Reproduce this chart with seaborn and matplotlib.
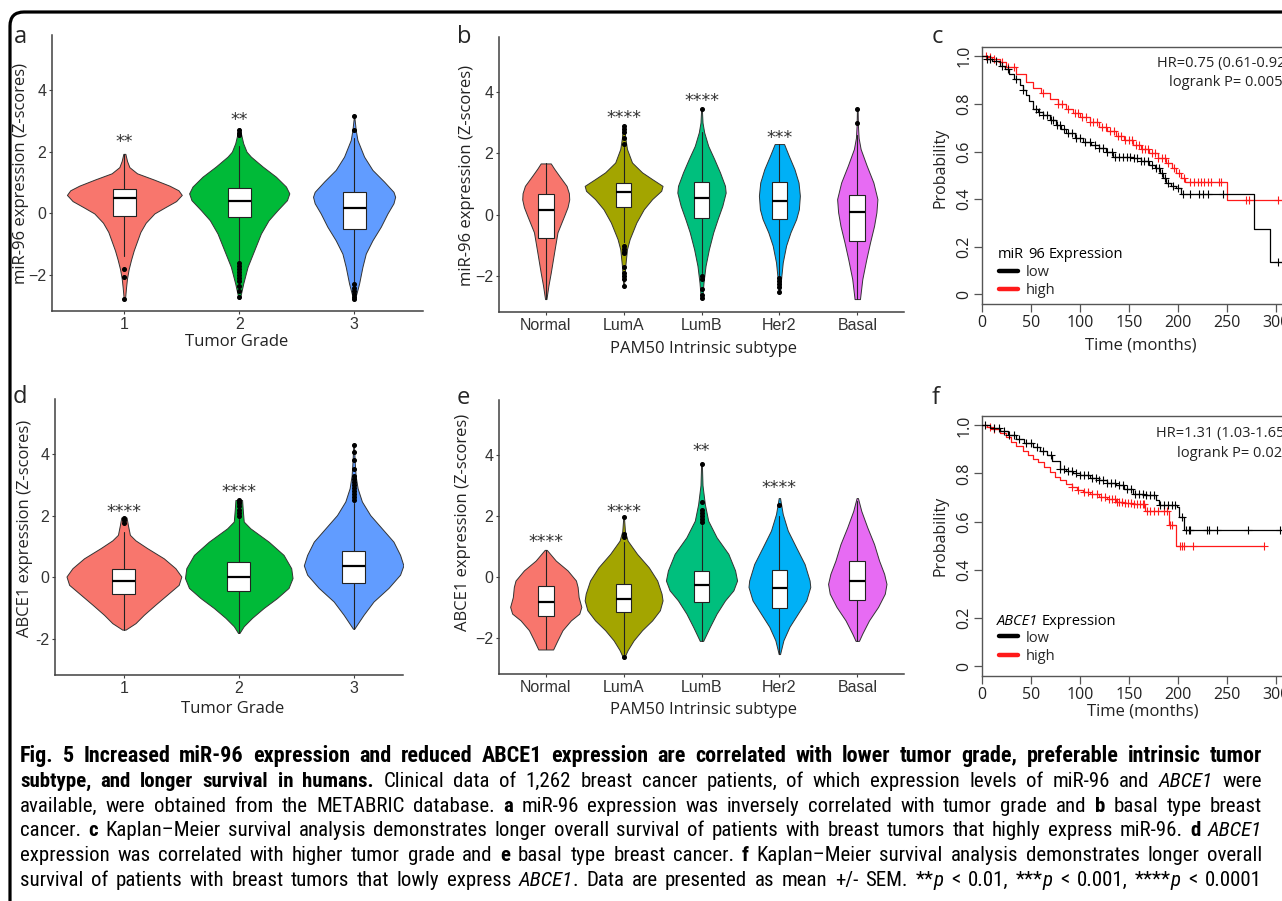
import os
import re
import numpy as np
import matplotlib
matplotlib.use("Agg")
import matplotlib.pyplot as plt
import seaborn as sns
from matplotlib import font_manager as fm
from matplotlib.font_manager import FontProperties
from matplotlib.patches import FancyBboxPatch
from matplotlib.transforms import IdentityTransform, offset_copy
from matplotlib.lines import Line2D

# ---------------------------------------------------------------- data
GRADES = ["1", "2", "3"]
SUBTYPES = ["Normal", "LumA", "LumB", "Her2", "Basal"]
COL3 = ["#F8766D", "#00BA38", "#619CFF"]
COL5 = ["#F8766D", "#A3A500", "#00BF7D", "#00B0F6", "#E76BF3"]

# panel a : miR-96 by tumour grade  (z level / relative density)
A1_Z = [1.93, 1.7, 1.5, 1.3, 1.1, 0.9, 0.75, 0.6, 0.4, 0.2, 0.0, -0.3, -0.6, -0.9, -1.2, -1.5, -1.8, -2.1, -2.4, -2.76]
A1_D = [3, 8, 15, 38, 88, 135, 162, 172, 155, 122, 90, 64, 48, 38, 28, 20, 13, 8, 5, 2]
A2_Z = [2.76, 2.5, 2.27, 2.0, 1.84, 1.52, 1.19, 0.87, 0.65, 0.43, 0.11, -0.22, -0.65, -1.19, -1.73, -2.27, -2.76]
A2_D = [2, 7, 12, 22, 35, 70, 110, 140, 150, 143, 115, 88, 65, 45, 25, 12, 2]
A3_Z = [3.1, 2.7, 2.38, 1.84, 1.41, 1.03, 0.7, 0.54, 0.33, 0.0, -0.43, -0.87, -1.3, -1.73, -2.27, -2.76]
A3_D = [1, 5, 10, 30, 55, 90, 118, 123, 118, 100, 80, 55, 35, 25, 15, 3]
A_MED = [0.5, 0.41, 0.19]
A_Q1 = [-0.09, -0.13, -0.49]
A_Q3 = [0.79, 0.81, 0.70]
A_WLO = [-1.39, -1.52, -2.25]
A_WHI = [1.93, 2.2, 2.45]
A1_OUT = [-1.79, -2.06, -2.76]
A2_OUT = [2.55, 2.62, 2.7, -1.6, -1.7, -1.8, -1.9, -2.0, -2.1, -2.2, -2.35, -2.5, -2.7]
A3_OUT = [2.7, 3.17, -2.3, -2.4, -2.5, -2.6, -2.7, -2.78]
A_STARS = ["**", "**", ""]
A_STAR_Y = [2.43, 3.16, 0]

# panel b : miR-96 by PAM50 subtype
B1_Z = [1.67, 1.5, 1.27, 0.94, 0.7, 0.5, 0.25, -0.03, -0.57, -1.22, -1.88, -2.3, -2.74]
B1_D = [15, 25, 40, 62, 69, 70, 65, 55, 35, 25, 15, 8, 2]
B2_Z = [2.9, 2.5, 2.14, 1.7, 1.38, 1.16, 0.94, 0.78, 0.51, 0.18, -0.25, -0.79, -1.12, -1.66, -2.31]
B2_D = [2, 5, 10, 25, 55, 85, 116, 112, 85, 60, 38, 18, 10, 5, 1]
B3_Z = [3.45, 3.0, 2.68, 2.24, 1.81, 1.38, 0.94, 0.72, 0.29, -0.14, -0.57, -1.12, -1.66, -2.2, -2.74]
B3_D = [1, 3, 8, 20, 38, 55, 70, 72, 62, 48, 35, 22, 12, 6, 2]
B4_Z = [2.3, 1.92, 1.48, 1.05, 0.62, 0.18, -0.14, -0.57, -1.0, -1.55, -2.09, -2.53]
B4_D = [14, 28, 45, 57, 61, 58, 50, 33, 20, 10, 5, 2]
B5_Z = [3.45, 2.9, 2.5, 2.14, 1.6, 1.05, 0.51, 0.08, -0.36, -0.9, -1.44, -2.09, -2.74]
B5_D = [1, 2, 4, 10, 28, 48, 60, 57, 50, 38, 27, 15, 8]
B_MED = [0.15, 0.75, 0.56, 0.46, 0.1]
B_Q1 = [-0.76, 0.26, -0.11, -0.14, -0.85]
B_Q3 = [0.66, 1.03, 1.08, 1.08, 0.65]
B_WLO = [-2.74, -0.9, -1.9, -1.97, -2.74]
B_WHI = [1.67, 2.2, 2.7, 2.3, 2.6]
B1_OUT = []
B2_OUT = [2.3, 2.5, 2.7, 2.8, 2.9, -1.0, -1.1, -1.2, -1.25, -1.7, -1.9, -2.0, -2.1, -2.3]
B3_OUT = [3.45, -2.0, -2.1, -2.4, -2.6, -2.72]
B4_OUT = [-2.05, -2.15, -2.25, -2.35, -2.5]
B5_OUT = [3.0, 3.45]
B_STARS = ["", "****", "****", "***", ""]
B_STAR_Y = [0, 3.27, 3.84, 2.62, 0]

# panel d : ABCE1 by tumour grade
D1_Z = [1.94, 1.7, 1.38, 1.2, 0.95, 0.62, 0.3, 0.03, -0.24, -0.56, -0.88, -1.21, -1.48, -1.69]
D1_D = [8, 12, 18, 35, 70, 120, 155, 173, 165, 130, 95, 60, 35, 5]
D2_Z = [2.51, 2.2, 1.81, 1.59, 1.16, 0.73, 0.3, -0.02, -0.34, -0.67, -0.99, -1.31, -1.58, -1.8]
D2_D = [10, 12, 15, 35, 90, 135, 158, 162, 150, 115, 75, 40, 15, 2]
D3_Z = [4.3, 3.8, 3.3, 2.89, 2.46, 2.02, 1.59, 1.16, 0.73, 0.39, 0.09, -0.34, -0.78, -1.21, -1.66]
D3_D = [1, 3, 6, 12, 25, 50, 85, 120, 140, 150, 140, 105, 60, 30, 2]
D_MED = [-0.1, 0.01, 0.38]
D_Q1 = [-0.54, -0.43, -0.17]
D_Q3 = [0.27, 0.5, 0.86]
D_WLO = [-1.69, -1.8, -1.66]
D_WHI = [1.48, 1.9, 2.4]
D1_OUT = [1.75, 1.85, 1.94]
D2_OUT = [2.0, 2.1, 2.2, 2.3, 2.4, 2.45, 2.51]
D3_OUT = [2.5, 2.6, 2.7, 2.8, 2.9, 3.0, 3.1, 3.2, 3.3, 3.5, 3.8, 4.05, 4.3]
D_STARS = ["****", "****", ""]
D_STAR_Y = [2.24, 2.91, 0]

# panel e : ABCE1 by PAM50 subtype
E1_Z = [0.89, 0.54, 0.22, -0.11, -0.32, -0.65, -0.97, -1.19, -1.41, -1.73, -2.06, -2.36]
E1_D = [3, 30, 65, 90, 95, 98, 106, 100, 75, 50, 35, 22]
E2_Z = [1.95, 1.5, 1.19, 0.76, 0.32, -0.11, -0.54, -0.76, -1.08, -1.41, -1.73, -2.06, -2.38, -2.62]
E2_D = [1, 4, 12, 40, 75, 100, 113, 116, 108, 85, 55, 30, 12, 2]
E3_Z = [3.73, 3.0, 2.38, 1.84, 1.3, 0.76, 0.22, -0.11, -0.43, -0.76, -1.19, -1.62, -2.08]
E3_D = [1, 3, 10, 20, 45, 80, 100, 106, 95, 70, 45, 25, 5]
E4_Z = [2.58, 2.06, 1.52, 0.97, 0.43, -0.11, -0.32, -0.76, -1.19, -1.62, -2.06, -2.51]
E4_D = [2, 10, 25, 50, 75, 90, 92, 80, 55, 30, 12, 2]
E5_Z = [2.58, 2.16, 1.62, 1.08, 0.54, 0.11, -0.22, -0.54, -0.97, -1.41, -1.84, -2.08]
E5_D = [2, 12, 30, 50, 65, 80, 87, 82, 62, 35, 15, 5]
E_MED = [-0.81, -0.7, -0.24, -0.36, -0.11]
E_Q1 = [-1.27, -1.14, -0.81, -1.0, -0.76]
E_Q3 = [-0.3, -0.22, 0.19, 0.22, 0.54]
E_WLO = [-2.36, -2.5, -2.08, -2.51, -2.08]
E_WHI = [0.89, 1.15, 1.69, 2.0, 2.5]
E1_OUT = []
E2_OUT = [1.3, 1.4, 1.95, -2.6]
E3_OUT = [1.8, 1.9, 2.0, 2.1, 2.2, 2.45, 3.7]
E4_OUT = [2.35]
E5_OUT = []
E_STARS = ["****", "****", "**", "****", ""]
E_STAR_Y = [1.27, 2.27, 4.25, 3.03, 0]

# panel c : Kaplan-Meier, miR-96
C_HIGH_T = [0, 5, 10, 18, 25, 35, 45, 52, 60, 69.5, 78, 86, 93, 100, 110, 120, 128, 137, 145, 154, 162, 171, 180, 188, 194, 198, 203, 207, 250, 320]
C_HIGH_S = [1.0, 0.995, 0.99, 0.975, 0.955, 0.926, 0.893, 0.867, 0.845, 0.822, 0.80, 0.778, 0.762, 0.746, 0.725, 0.704, 0.685, 0.667, 0.648, 0.628, 0.61, 0.593, 0.572, 0.551, 0.53, 0.51, 0.49, 0.47, 0.395, 0.395]
C_LOW_T = [0, 5, 10, 18, 23, 28, 33, 38.5, 42, 45, 48, 52, 57, 62, 69, 76, 81, 86, 95, 103, 111, 120, 127, 134, 145, 154, 162, 171, 177, 182, 185, 188, 193, 198, 203, 278, 294, 320]
C_LOW_S = [1.0, 0.99, 0.98, 0.961, 0.945, 0.926, 0.905, 0.878, 0.858, 0.836, 0.81, 0.78, 0.765, 0.753, 0.733, 0.711, 0.693, 0.676, 0.657, 0.642, 0.628, 0.614, 0.597, 0.579, 0.575, 0.572, 0.559, 0.545, 0.53, 0.51, 0.49, 0.468, 0.457, 0.447, 0.42, 0.276, 0.1375, 0.1375]
C_HIGH_CENS = [4, 8, 12, 20, 27, 33, 62, 78, 82, 88, 95, 98, 102, 106, 110, 113, 118, 123, 127, 131, 135, 139, 142, 146, 150, 153, 157, 160, 163, 167, 170, 174, 177, 180, 184, 187, 190, 196, 201, 206, 212, 217, 221, 224, 227, 231, 234, 242, 244, 270, 273, 302]
C_LOW_CENS = [5, 8, 14, 20, 27, 35, 42, 55, 58, 62, 66, 70, 73, 77, 80, 84, 88, 92, 96, 100, 105, 110, 115, 120, 124, 128, 133, 136, 140, 144, 148, 151, 155, 158, 162, 166, 170, 174, 178, 181, 184, 187, 190, 195, 200, 205, 212, 222, 226, 231, 246, 302]

# panel f : Kaplan-Meier, ABCE1
F_HIGH_T = [0, 5, 10, 18.5, 25, 30, 35, 42, 47, 52, 57, 63, 69, 75, 80, 86, 92, 97, 103, 110, 120, 128, 137, 145, 154, 167, 191, 198, 288]
F_HIGH_S = [1.0, 0.995, 0.985, 0.968, 0.95, 0.932, 0.916, 0.895, 0.876, 0.861, 0.846, 0.825, 0.806, 0.787, 0.772, 0.758, 0.742, 0.732, 0.723, 0.713, 0.703, 0.692, 0.682, 0.676, 0.672, 0.645, 0.586, 0.50, 0.50]
F_LOW_T = [0, 8, 18.5, 27, 35, 43, 52, 59, 66, 72, 79.5, 86, 93, 100, 110, 120, 128, 137, 145, 154, 165, 174, 178, 181, 199, 201, 206, 305]
F_LOW_S = [1.0, 0.99, 0.978, 0.96, 0.944, 0.926, 0.909, 0.893, 0.875, 0.85, 0.82, 0.809, 0.80, 0.792, 0.782, 0.771, 0.762, 0.751, 0.735, 0.716, 0.709, 0.709, 0.69, 0.668, 0.66, 0.62, 0.565, 0.565]
F_HIGH_CENS = [8, 12, 92, 98, 104, 108, 112, 118, 122, 126, 130, 133, 136, 138, 140, 143, 146, 149, 152, 155, 158, 161, 164, 166, 169, 172, 176, 180, 186, 189, 192, 194, 202, 204, 206, 216, 288]
F_LOW_CENS = [3, 12, 17, 22, 28, 33, 38, 45, 50, 56, 62, 70, 80, 84, 88, 92, 96, 100, 104, 108, 112, 116, 120, 124, 128, 132, 136, 140, 144, 148, 152, 156, 160, 164, 168, 172, 176, 182, 186, 190, 194, 197, 204, 208, 211, 213, 230, 232, 240, 272, 304]

C_STATS = ["HR=0.75 (0.61-0.92)", "logrank P= 0.0052"]
F_STATS = ["HR=1.31 (1.03-1.65)", "logrank P= 0.026"]
KM_TICKS = [0, 50, 100, 150, 200, 250, 300]
PROB_TICKS = [0, 0.2, 0.4, 0.6, 0.8, 1.0]
PROB_LABELS = ["0", "0.2", "0.4", "0.6", "0.8", "1.0"]

CAPTION = [
    [("Fig. 5 Increased miR-96 expression and reduced ABCE1 expression are correlated with lower tumor grade, preferable intrinsic tumor", "b")],
    [("subtype, and longer survival in humans.", "b"),
     (" Clinical data of 1,262 breast cancer patients, of which expression levels of miR-96 and ", "r"),
     ("ABCE1", "i"), (" were", "r")],
    [("available, were obtained from the METABRIC database. ", "r"), ("a", "b"),
     (" miR-96 expression was inversely correlated with tumor grade and ", "r"), ("b", "b"),
     (" basal type breast", "r")],
    [("cancer. ", "r"), ("c", "b"),
     (" Kaplan\u2013Meier survival analysis demonstrates longer overall survival of patients with breast tumors that highly express miR-96. ", "r"),
     ("d", "b"), (" ", "r"), ("ABCE1", "i")],
    [("expression was correlated with higher tumor grade and ", "r"), ("e", "b"),
     (" basal type breast cancer. ", "r"), ("f", "b"),
     (" Kaplan\u2013Meier survival analysis demonstrates longer overall", "r")],
    [("survival of patients with breast tumors that lowly express ", "r"), ("ABCE1", "i"),
     (". Data are presented as mean +/- SEM. **", "r"), ("p", "i"), (" < 0.01, ***", "r"),
     ("p", "i"), (" < 0.001, ****", "r"), ("p", "i"), (" < 0.0001", "r")],
]

# ---------------------------------------------------------------- setup
sns.set_style("white")
plt.rcParams["font.family"] = ["Open Sans", "DejaVu Sans"]
W, H = 1282, 901
fig = plt.figure(figsize=(W / 100, H / 100), dpi=100)
R = fig.canvas.get_renderer()

LAB = "Open Sans"
TICKF = "Liberation Sans"


def find_condensed():
    files = [f.fname for f in fm.fontManager.ttflist]
    prefixes = ["notosans-semicondensed", "notosans-condensed", "liberationsansnarrow",
                "robotocondensed", "opensans-condensed", "opensanscondensed"]
    for pre in prefixes:
        found = {}
        for fn in files:
            base = os.path.basename(fn).lower()
            if not base.startswith(pre):
                continue
            rest = re.sub(r"[^a-z]", "", re.sub(r"\.(ttf|otf)$", "", base[len(pre):]))
            if rest in ("", "regular"):
                found.setdefault("r", fn)
            elif rest == "bold":
                found.setdefault("b", fn)
            elif rest == "italic":
                found.setdefault("i", fn)
        if len(found) == 3:
            return found
    return None


COND = find_condensed()


def cap_fp(st, size):
    if COND is not None:
        return FontProperties(fname=COND[st], size=size)
    wt = "bold" if st == "b" else "normal"
    sl = "italic" if st == "i" else "normal"
    return FontProperties(family="Lato", weight=wt, style=sl, size=size)


def lab_fp(st, size):
    wt = "bold" if st == "b" else "normal"
    sl = "italic" if st == "i" else "normal"
    return FontProperties(family=LAB, weight=wt, style=sl, size=size)


def rect(x0, x1, ytop, ybot):
    return [x0 / W, 1 - ybot / H, (x1 - x0) / W, (ybot - ytop) / H]


def ftext(x, y, s, **kw):
    return fig.text(x / W, 1 - y / H, s, **kw)


def split_words(segs):
    words, new = [], True
    for txt, st in segs:
        for k, p in enumerate(txt.split(" ")):
            if k > 0:
                new = True
            if p == "":
                continue
            if new:
                words.append([(p, st)])
                new = False
            else:
                words[-1].append((p, st))
    return words


def piece_width(p, fp):
    t = fig.text(0, 0, p, fontproperties=fp)
    w = t.get_window_extent(renderer=R).width
    t.remove()
    return w


def rich(words, x, ybase, size, fpf, gap=None, color="black"):
    if gap is None:
        gap = 0.26 * size * 100 / 72
    for wd in words:
        for p, st in wd:
            fp = fpf(st, size)
            ftext(x, ybase, p, fontproperties=fp, va="baseline", ha="left", color=color)
            x += piece_width(p, fp)
        x += gap
    return x


def words_width(words, size, fpf):
    return sum(piece_width(p, fpf(st, size)) for wd in words for p, st in wd)


# ---------------------------------------------------------------- frame
frame = FancyBboxPatch((10, -60), 1500, H - 12 + 60, boxstyle="round,pad=0,rounding_size=14",
                       transform=IdentityTransform(), fill=False, ec="black", lw=2.3)
fig.add_artist(frame)


# ---------------------------------------------------------------- violin panels
def violin_panel(r, cats, colors, zs, ds, med, q1, q3, wlo, whi, outs, stars, star_y,
                 xlim, minus="\u2212"):
    ax = fig.add_axes(r)
    dmax = max(max(d) for d in ds)
    for i, (z, d) in enumerate(zip(zs, ds)):
        w = 0.5 * np.asarray(d, float) / dmax
        ax.fill_betweenx(z, i - w, i + w, facecolor=colors[i], edgecolor="#333333",
                         lw=0.7, zorder=2)
    stats = [dict(med=med[i], q1=q1[i], q3=q3[i], whislo=wlo[i], whishi=whi[i],
                  fliers=outs[i]) for i in range(len(cats))]
    ax.bxp(stats, positions=list(range(len(cats))), widths=0.2, patch_artist=True,
           showcaps=False, manage_ticks=False, zorder=3,
           boxprops=dict(facecolor="white", edgecolor="#222222", lw=0.8),
           medianprops=dict(color="black", lw=1.6),
           whiskerprops=dict(color="#222222", lw=0.8),
           flierprops=dict(marker="o", markerfacecolor="black", markeredgecolor="black",
                           markersize=2.6, linestyle="none"))
    tr = offset_copy(ax.transData, fig=fig, y=-9, units="dots")
    for i, s in enumerate(stars):
        if s:
            ax.text(i, star_y[i], s, transform=tr, ha="center", va="baseline",
                    fontsize=12.5, family="DejaVu Sans", color="#333333")
    ax.set_xlim(*xlim)
    ax.set_ylim(-3.16, 5.78)
    ax.set_xticks(range(len(cats)))
    ax.set_xticklabels(cats)
    ax.set_yticks([-2, 0, 2, 4])
    ax.set_yticklabels([minus + "2", "0", "2", "4"])
    for sp in ["top", "right"]:
        ax.spines[sp].set_visible(False)
    for sp in ["left", "bottom"]:
        ax.spines[sp].set_color("#404040")
        ax.spines[sp].set_linewidth(1.1)
    ax.tick_params(bottom=True, left=True, length=2.5, width=0.8, color="#404040",
                   pad=1.5, labelsize=11.5, labelcolor="#333333")
    for lab in ax.get_xticklabels() + ax.get_yticklabels():
        lab.set_family(TICKF)
    ax.patch.set_alpha(0)
    return ax


violin_panel(rect(52, 423, 35, 311), GRADES, COL3, [A1_Z, A2_Z, A3_Z], [A1_D, A2_D, A3_D],
             A_MED, A_Q1, A_Q3, A_WLO, A_WHI, [A1_OUT, A2_OUT, A3_OUT], A_STARS, A_STAR_Y,
             (-0.63, 2.6))
violin_panel(rect(499, 904, 37, 312), SUBTYPES, COL5, [B1_Z, B2_Z, B3_Z, B4_Z, B5_Z],
             [B1_D, B2_D, B3_D, B4_D, B5_D], B_MED, B_Q1, B_Q3, B_WLO, B_WHI,
             [B1_OUT, B2_OUT, B3_OUT, B4_OUT, B5_OUT], B_STARS, B_STAR_Y, (-0.6, 4.6))
violin_panel(rect(55, 403, 399, 675), GRADES, COL3, [D1_Z, D2_Z, D3_Z], [D1_D, D2_D, D3_D],
             D_MED, D_Q1, D_Q3, D_WLO, D_WHI, [D1_OUT, D2_OUT, D3_OUT], D_STARS, D_STAR_Y,
             (-0.6, 2.43), minus="-")
violin_panel(rect(499, 904, 400, 674), SUBTYPES, COL5, [E1_Z, E2_Z, E3_Z, E4_Z, E5_Z],
             [E1_D, E2_D, E3_D, E4_D, E5_D], E_MED, E_Q1, E_Q3, E_WLO, E_WHI,
             [E1_OUT, E2_OUT, E3_OUT, E4_OUT, E5_OUT], E_STARS, E_STAR_Y, (-0.6, 4.6))

# axis titles
LKW = dict(ha="center", va="center", fontsize=12, family=LAB, color="#222222")
ftext(21, 174, "miR-96 expression (Z-scores)", rotation=90, **LKW)
ftext(237, 342, "Tumor Grade", **LKW)
ftext(467, 176, "miR-96 expression (Z-scores)", rotation=90, **LKW)
ftext(703, 349, "PAM50 Intrinsic subtype", **LKW)
ftext(25, 528, "ABCE1 expression (Z-scores)", rotation=90, **LKW)
ftext(233, 709, "Tumor Grade", **LKW)
ftext(463, 522, "ABCE1 expression (Z-scores)", rotation=90, **LKW)
ftext(703, 710, "PAM50 Intrinsic subtype", **LKW)


# ---------------------------------------------------------------- KM panels
def step_at(t, s, c):
    idx = np.searchsorted(np.asarray(t), np.asarray(c), side="right") - 1
    return np.asarray(s)[idx]


def km_panel(r, lt, ls, ht, hs, lc, hc):
    ax = fig.add_axes(r)
    sns.lineplot(x=lt, y=ls, drawstyle="steps-post", estimator=None, color="black",
                 lw=0.9, ax=ax, zorder=3)
    sns.lineplot(x=ht, y=hs, drawstyle="steps-post", estimator=None, color="#FF1A1A",
                 lw=0.9, ax=ax, zorder=2)
    ax.plot(lc, step_at(lt, ls, lc), ls="none", marker="+", ms=6, mew=0.8, color="black", zorder=3)
    ax.plot(hc, step_at(ht, hs, hc), ls="none", marker="+", ms=6, mew=0.8, color="#FF1A1A", zorder=2)
    ax.set_xlim(0, 330)
    ax.set_ylim(-0.04, 1.04)
    ax.set_xticks(KM_TICKS)
    ax.set_xticklabels([str(v) for v in KM_TICKS])
    ax.set_yticks(PROB_TICKS)
    ax.set_yticklabels(PROB_LABELS, rotation=90, va="center")
    ax.set_xlabel("")
    ax.set_ylabel("")
    for sp in ax.spines.values():
        sp.set_color("#555555")
        sp.set_linewidth(1.0)
    ax.tick_params(bottom=True, left=True, direction="out", length=6, width=0.9,
                   color="#555555", labelsize=11.5, labelcolor="#222222", pad=2)
    ax.tick_params(axis="y", pad=1.0)
    ax.patch.set_alpha(0)
    return ax


axc = km_panel(rect(982, 1305, 46.7, 304), C_LOW_T, C_LOW_S, C_HIGH_T, C_HIGH_S,
               C_LOW_CENS, C_HIGH_CENS)
axf = km_panel(rect(982, 1305, 415.7, 675.7), F_LOW_T, F_LOW_S, F_HIGH_T, F_HIGH_S,
               F_LOW_CENS, F_HIGH_CENS)

handles = [Line2D([], [], color="black", lw=3.2), Line2D([], [], color="#FF1A1A", lw=3.2)]
for ax, top in [(axc, 304 - 265), (axf, 675.7 - 631)]:
    ax.legend(handles, ["low", "high"], loc="upper left",
              bbox_to_anchor=((999 - 982) / 323, top / 257.3), frameon=False, borderpad=0,
              borderaxespad=0, handlelength=1.3, handletextpad=0.55, labelspacing=0.22,
              prop=dict(family=LAB, size=10.5))

rich(split_words([("miR 96 Expression", "r")]), 998, 258, 10.5, lab_fp)
rich(split_words([("ABCE1", "i"), (" Expression", "r")]), 997, 625, 10.5, lab_fp)

SKW = dict(fontsize=10.5, family=LAB, va="baseline", color="#222222")
ftext(1157, 67, C_STATS[0], **SKW)
ftext(1169, 86, C_STATS[1], **SKW)
ftext(1156, 437, F_STATS[0], **SKW)
ftext(1177, 457, F_STATS[1], **SKW)

KKW = dict(ha="center", va="center", family=LAB, color="#222222")
ftext(940, 168, "Probability", rotation=90, fontsize=11.5, **KKW)
ftext(1141, 345, "Time (months)", fontsize=12, **KKW)
ftext(940, 536, "Probability", rotation=90, fontsize=11.5, **KKW)
ftext(1143, 712, "Time (months)", fontsize=12, **KKW)

# panel letters
for lt, x, y in [("a", 14, 43), ("b", 457, 43), ("c", 932, 43), ("d", 13, 403), ("e", 457, 404), ("f", 932, 404)]:
    ftext(x, y, lt, fontsize=17, family=LAB, va="baseline", ha="left")

# ---------------------------------------------------------------- caption
CX0, CX1 = 20, 1262
BASES = [762, 787, 812, 836, 861, 886]
GROW = [1.06, 1.0, 1.0, 1.0, 1.0, 1.0]
BASE_SIZE = 15.0
for segs, yb, grow in zip(CAPTION, BASES, GROW):
    wds = split_words(segs)
    sp_em = 0.2 * 100 / 72
    nat = words_width(wds, BASE_SIZE, cap_fp) + sp_em * BASE_SIZE * (len(wds) - 1)
    size = min(BASE_SIZE * grow, BASE_SIZE * (CX1 - CX0) / nat * 0.998)
    tot = words_width(wds, size, cap_fp)
    gap = (CX1 - CX0 - tot) / (len(wds) - 1)
    rich(wds, CX0, yb, size, cap_fp, gap=gap)

fig.savefig("out.png", dpi=100)
